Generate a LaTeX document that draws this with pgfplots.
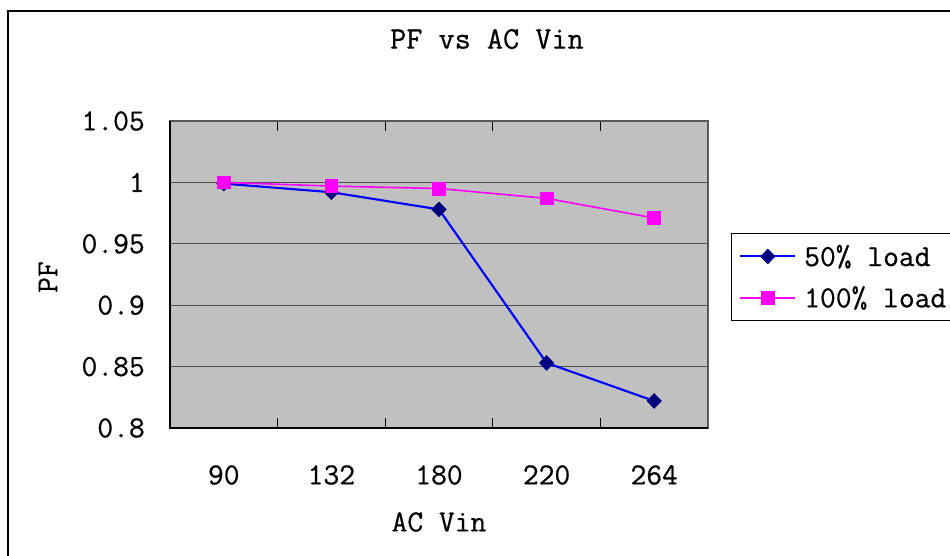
\documentclass[border=0pt]{standalone}
\usepackage{fontspec}
\setmainfont{Latin Modern Mono}[FakeBold=0.6]
\usepackage{pgfplots}
\pgfplotsset{compat=1.18}
\definecolor{plotgray}{HTML}{C0C0C0}
\definecolor{navyblue}{HTML}{000080}
\definecolor{gridc}{HTML}{505050}
\definecolor{pink}{HTML}{FF00FF}
\definecolor{bline}{HTML}{0000FF}
\begin{document}
\begin{tikzpicture}[x=1pt,y=1pt]
\useasboundingbox (-127.5pt,-96pt) rectangle (585pt,321pt);
\draw[line width=1.5pt] (-121.5pt,-100pt) -- (-121.5pt,312.75pt) -- (590pt,312.75pt);
\begin{axis}[
  at={(0pt,0pt)}, anchor=south west,
  scale only axis, width=403.5pt, height=230.25pt,
  font=\fontsize{23}{27}\selectfont,
  axis background/.style={fill=plotgray},
  axis line style={draw=gray!70!black, line width=0.8pt},
  xmin=-0.5, xmax=4.5, ymin=0.8, ymax=1.05,
  xtick={0,1,2,3,4},
  xticklabels={90,132,180,220,264},
  major x tick style={draw=none},
  minor xtick={-0.5,0.5,1.5,2.5,3.5,4.5},
  minor x tick style={draw=black, line width=0.8pt},
  minor tick length=7.5pt,
  xtick align=inside,
  ytick={0.8,0.85,0.9,0.95,1,1.05},
  yticklabels={0.8,0.85,0.9,0.95,1,1.05},
  major y tick style={draw=none},
  ymajorgrids,
  major grid style={draw=gridc, line width=1pt},
  xticklabel style={anchor=center, inner sep=0pt, yshift=-35.25pt},
  yticklabel style={anchor=east, inner sep=0pt, xshift=-18.75pt},
  title={PF vs AC Vin},
  title style={at={(0.5892,1.2410)}, anchor=center, inner sep=0pt, font=\fontsize{23.5}{27}\selectfont},
  xlabel={AC Vin},
  xlabel style={at={(0.5,-0.3062)}, anchor=center, inner sep=0pt},
  ylabel={PF},
  ylabel style={at={(-0.2268,0.4919)}, anchor=center, inner sep=0pt},
  legend style={at={(1.0428,0.635)}, anchor=north west, draw=black, line width=0.6pt, fill=white,
    font=\fontsize{23}{27}\selectfont, inner xsep=6pt, inner ysep=6.5pt, row sep=9.5pt,
    column sep=4pt, cells={anchor=west}},
  legend image code/.code={\draw[mark repeat=2,mark phase=2] plot coordinates {(0pt,0pt) (20.5pt,0pt) (41pt,0pt)};},
  clip=false,
]
\addplot[color=bline, line width=1.6pt, mark=diamond*, mark size=5.5pt,
  mark options={fill=navyblue, draw=navyblue, xscale=1.3, line width=0.5pt}]
  coordinates {(0,0.999) (1,0.992) (2,0.978) (3,0.853) (4,0.822)};
\addlegendentry{50\% load}
\addplot[color=pink, line width=1.2pt, mark=square*, mark size=4.8pt,
  mark options={fill=pink, draw=pink, line width=0.5pt}]
  coordinates {(0,1.0) (1,0.997) (2,0.995) (3,0.987) (4,0.971)};
\addlegendentry{100\% load}
\draw[black, line width=1.5pt] (rel axis cs:0,1) -- (rel axis cs:0,0) -- (rel axis cs:1,0);
\end{axis}
\end{tikzpicture}
\end{document}
